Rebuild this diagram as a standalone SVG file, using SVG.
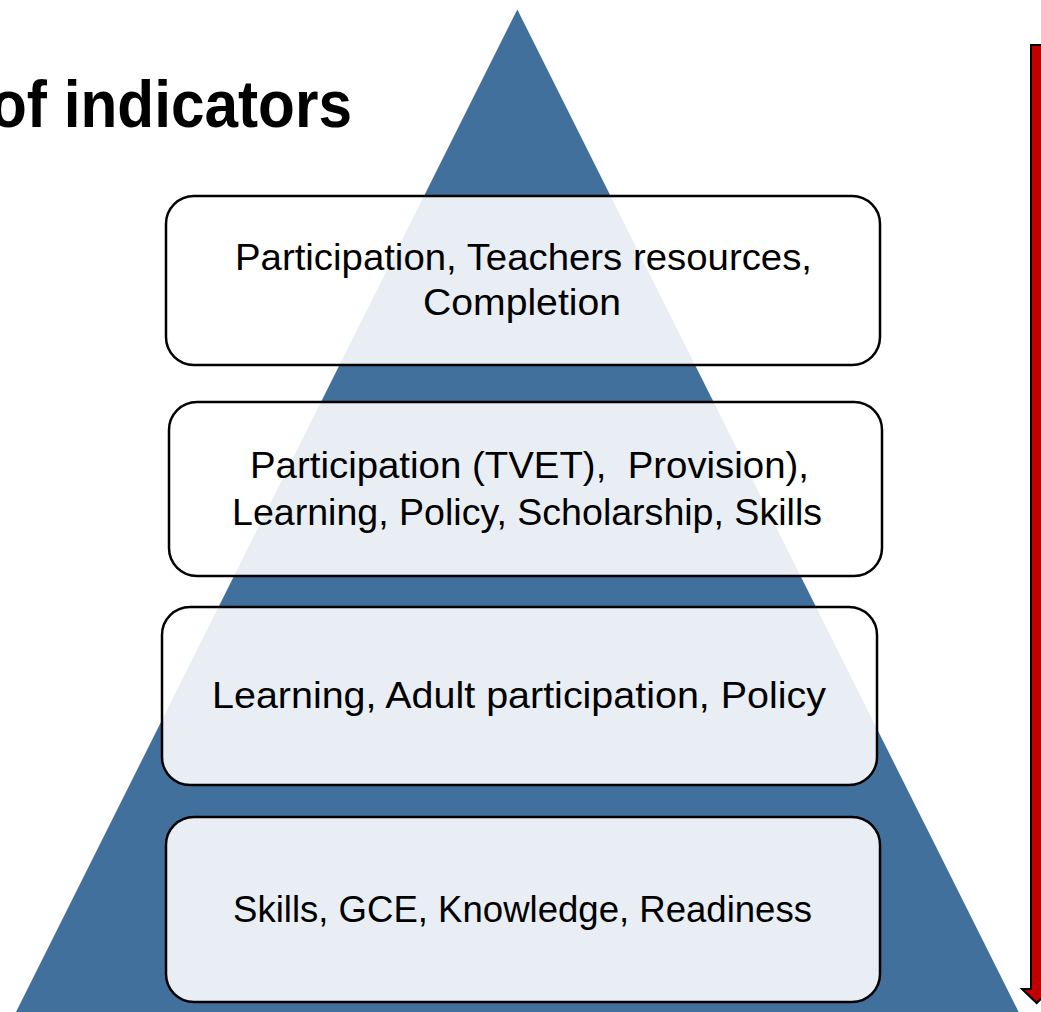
<svg xmlns="http://www.w3.org/2000/svg" width="1041" height="1012" viewBox="0 0 1041 1012">
  <style>
    .box { fill: #ffffff; fill-opacity: 0.88; stroke: #000000; stroke-width: 2.5; }
    .label { font-family: "Liberation Sans", Arial, sans-serif; font-size: 36px; fill: #000000; white-space: pre; }
    .title { font-family: "Liberation Sans", Arial, sans-serif; font-size: 66px; font-weight: bold; fill: #000000; }
  </style>

  <rect x="0" y="0" width="1041" height="1012" fill="#ffffff"/>

  <!-- pyramid backdrop -->
  <polygon id="pyramid" points="517.3,9.5 1018.6,1012 16,1012" fill="#41709C"/>

  <!-- heading (runs off the left edge) -->
  <text class="title" x="-10" y="127" textLength="362" lengthAdjust="spacingAndGlyphs">of indicators</text>

  <!-- downward direction arrow -->
  <g id="arrow">
    <polygon points="1031,45 1042.4,45 1042.4,989 1051.4,989 1036.7,1003 1022,989 1031,989" fill="#C00000" stroke="#000000" stroke-width="2" stroke-linejoin="miter"/>
  </g>

  <!-- levels -->
  <g id="level1">
    <rect class="box" x="166" y="196" width="714" height="169" rx="28" ry="28"/>
    <text class="label" x="235" y="270" textLength="577" lengthAdjust="spacingAndGlyphs">Participation, Teachers resources,</text>
    <text class="label" x="423" y="315" textLength="198" lengthAdjust="spacingAndGlyphs">Completion</text>
  </g>

  <g id="level2">
    <rect class="box" x="169" y="402" width="713" height="174" rx="28" ry="28"/>
    <text class="label" x="250" y="478" textLength="559" lengthAdjust="spacingAndGlyphs">Participation (TVET),  Provision),</text>
    <text class="label" x="232" y="525" textLength="590" lengthAdjust="spacingAndGlyphs">Learning, Policy, Scholarship, Skills</text>
  </g>

  <g id="level3">
    <rect class="box" x="162" y="607" width="715" height="178" rx="28" ry="28"/>
    <text class="label" x="212" y="708" textLength="614" lengthAdjust="spacingAndGlyphs">Learning, Adult participation, Policy</text>
  </g>

  <g id="level4">
    <rect class="box" x="166" y="817" width="714" height="185" rx="28" ry="28"/>
    <text class="label" x="233" y="922" textLength="579" lengthAdjust="spacingAndGlyphs">Skills, GCE, Knowledge, Readiness</text>
  </g>
</svg>
